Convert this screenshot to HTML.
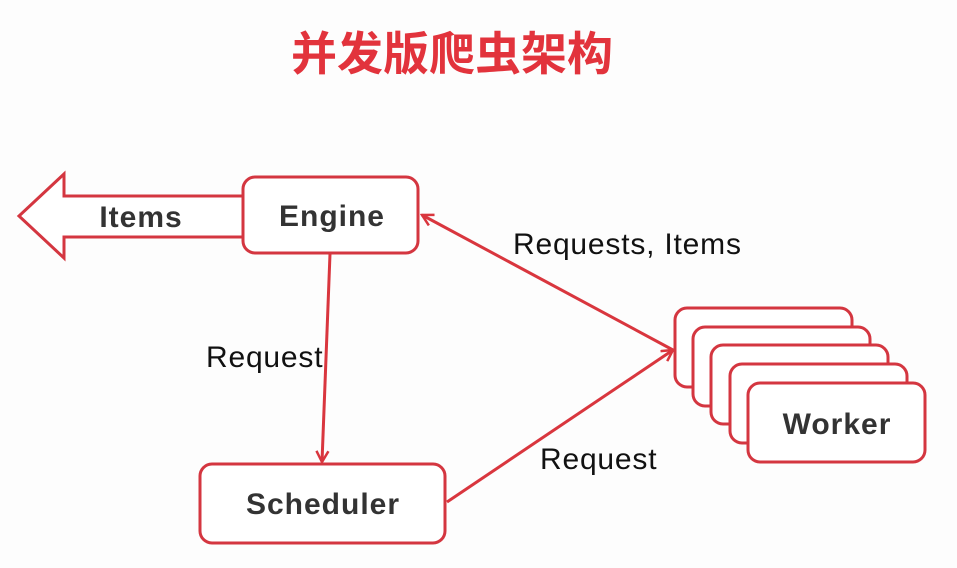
<!DOCTYPE html>
<html><head><meta charset="utf-8"><style>
body{margin:0;width:957px;height:568px;background:#fdfdfd;overflow:hidden;position:relative;font-family:"Liberation Sans","Noto Sans CJK SC",sans-serif}
.t{position:absolute;left:0;width:904px;text-align:center;top:18px;font-size:46px;font-weight:bold;color:#e2333c;font-family:"Noto Sans CJK SC","WenQuanYi Zen Hei",sans-serif;letter-spacing:0px}
</style></head><body>
<div class="t">并发版爬虫架构</div>
<svg width="957" height="568" style="position:absolute;left:0;top:0" font-family="Liberation Sans, sans-serif">
<defs><marker id="a" markerWidth="14" markerHeight="14" refX="12" refY="7" orient="auto" markerUnits="userSpaceOnUse"><path d="M1,1 L12,7 L1,13" fill="none" stroke="#d9363e" stroke-width="2.5"/></marker></defs>
<g stroke="#d43640" stroke-width="3" fill="#fff">
<path d="M243,196 L64,196 L64,174 L19,216 L64,258 L64,237 L243,237"/>
<rect x="243" y="177" width="175" height="76" rx="12"/>
<rect x="200" y="464" width="245" height="79" rx="12"/>
<rect x="675" y="308" width="177" height="79" rx="12"/>
<rect x="693" y="327" width="177" height="79" rx="12"/>
<rect x="711" y="345" width="177" height="79" rx="12"/>
<rect x="730" y="364" width="177" height="79" rx="12"/>
<rect x="748" y="383" width="177" height="79" rx="12"/>
</g>
<g stroke="#d9363e" stroke-width="3" fill="none">
<line x1="330" y1="254" x2="322" y2="462" marker-end="url(#a)"/>
<line x1="673" y1="350" x2="422" y2="215" marker-end="url(#a)"/>
<line x1="447" y1="502" x2="673" y2="350" marker-end="url(#a)"/>
</g>
<g font-weight="bold" fill="#333" font-size="30" text-anchor="middle" letter-spacing="1">
<text x="141" y="227">Items</text>
<text x="332" y="226">Engine</text>
<text x="323" y="514">Scheduler</text>
<text x="837" y="434">Worker</text>
</g>
<g fill="#111" font-size="30" letter-spacing="0.8">
<text x="206" y="367">Request</text>
<text x="513" y="254">Requests, Items</text>
<text x="540" y="469">Request</text>
</g>
</svg>
</body></html>
